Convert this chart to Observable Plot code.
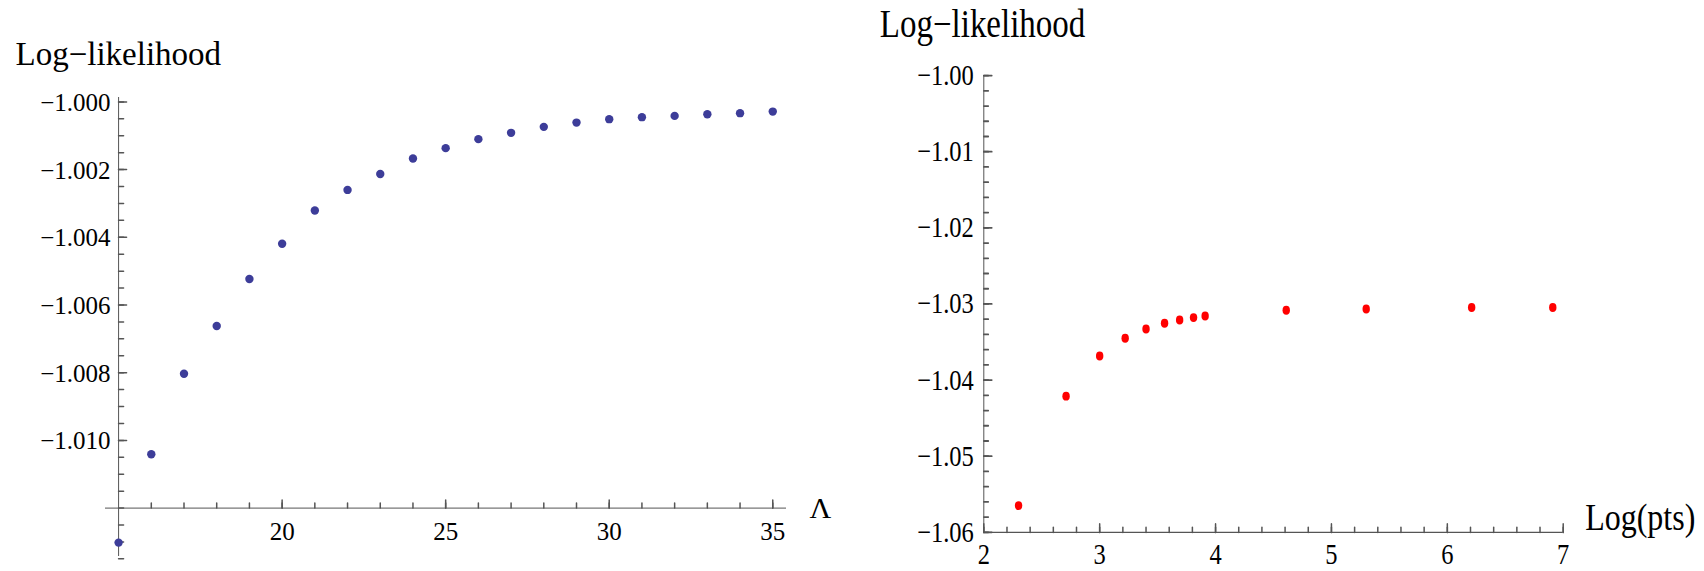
<!DOCTYPE html>
<html><head><meta charset="utf-8">
<script src="https://cdn.jsdelivr.net/npm/d3@7"></script>
<script src="https://cdn.jsdelivr.net/npm/@observablehq/plot@0.6"></script>
<style>
html,body{margin:0;padding:0;background:#fff;}
#wrap{position:relative;width:1704px;height:571px;overflow:hidden;background:#fff;}
#left{position:absolute;left:0;top:0;}
#right{position:absolute;left:852px;top:0;transform:scaleY(1.2);transform-origin:0 0;}
svg{overflow:visible;}
</style></head><body>
<div id="wrap"><div id="left"></div><div id="right"></div></div>
<script>
// ---------- Left panel: log-likelihood vs Lambda ----------
const lambdaValues = [15,16,17,18,19,20,21,22,23,24,25,26,27,28,29,30,31,32,33,34,35];
const llLambda = [-1.01302,-1.01041,-1.00803,-1.00662,-1.00523,-1.00419,-1.00321,-1.00260,-1.00213,-1.00167,
                  -1.001366,-1.00110,-1.000914,-1.000737,-1.000611,-1.000510,-1.000451,-1.000413,-1.000363,-1.000333,-1.000286];
const leftXLabels = [20,25,30,35];
const leftXMinor = [16,17,18,19,20,21,22,23,24,25,26,27,28,29,30,31,32,33,34,35];
const leftYLabels = [-1.000,-1.002,-1.004,-1.006,-1.008,-1.010];
const leftYMinor = d3.range(0, 28).map(i => -1 - i * 0.0005);
const leftOriginX = 15, leftOriginY = -1.012;
const leftXTitle = ["Λ"], leftYTitle = ["Log−likelihood"];

// ---------- Right panel: log-likelihood vs Log(pts) ----------
const logPts = [2.30,2.71,3.00,3.22,3.40,3.56,3.69,3.81,3.91,4.61,5.30,6.21,6.91];
const llPts = [-1.05649,-1.04211,-1.03684,-1.03451,-1.03329,-1.03254,-1.03211,-1.03179,-1.03158,-1.03083,-1.03066,-1.03047,-1.03047];
const rightXLabels = [2,3,4,5,6,7];
const rightXMinor = d3.range(0, 26).map(i => 2 + i * 0.2);
const rightYLabels = [-1.00,-1.01,-1.02,-1.03,-1.04,-1.05,-1.06];
const rightYMinor = d3.range(0, 31).map(i => -1 - i * 0.002);
const rightOriginX = 2, rightOriginY = -1.06;
const rightXTitle = ["Log(pts)"], rightYTitle = ["Log−likelihood"];

const serif = "'Liberation Serif','Times New Roman',serif";
const axisColor = "#555";
const tickShape = {draw(ctx, l) { ctx.moveTo(0, 0); ctx.lineTo(0, -l); }};

function ticksMarks(xMinor, xMajor, yMinor, yMajor, ox, oy, lenMaj, lenMin, xLenMaj, xLenMin) {
  return [
    Plot.vector(yMinor, {x: () => ox, y: d => d, length: lenMin, rotate: 90, anchor: "start", shape: tickShape, stroke: axisColor}),
    Plot.vector(yMajor, {x: () => ox, y: d => d, length: lenMaj, rotate: 90, anchor: "start", shape: tickShape, stroke: axisColor}),
    Plot.vector(xMinor, {x: d => d, y: () => oy, length: xLenMin, rotate: 0, anchor: "start", shape: tickShape, stroke: axisColor}),
    Plot.vector(xMajor, {x: d => d, y: () => oy, length: xLenMaj, rotate: 0, anchor: "start", shape: tickShape, stroke: axisColor})
  ];
}

const leftData = lambdaValues.map((x, i) => ({x, y: llLambda[i]}));
const fmt3 = d3.format(".3f");
const leftPlot = Plot.plot({
  width: 852, height: 571,
  marginLeft: 105, marginRight: 66, marginTop: 97, marginBottom: 15,
  x: {domain: [14.6, 35.42], axis: null},
  y: {domain: [-1.01343, -0.99987], axis: null},
  style: {background: "transparent"},
  marks: [
    Plot.ruleX([leftOriginX], {stroke: axisColor}),
    Plot.ruleY([leftOriginY], {stroke: axisColor}),
    ...ticksMarks(leftXMinor, leftXLabels, leftYMinor, leftYLabels, leftOriginX, leftOriginY, 8, 5, 8, 5),
    Plot.text(leftYLabels, {x: () => leftOriginX, y: d => d, text: d => fmt3(d), textAnchor: "end", dx: -8, dy: 1, fontSize: 25, fontFamily: serif, fill: "#000"}),
    Plot.text(leftXLabels, {x: d => d, y: () => leftOriginY, text: d => String(d), dy: 24, fontSize: 25, fontFamily: serif, fill: "#000"}),
    Plot.text(leftXTitle, {frameAnchor: "right", y: () => leftOriginY, text: d => d, textAnchor: "start", dx: 23, fontSize: 30, fontFamily: serif, fill: "#000"}),
    Plot.text(leftYTitle, {frameAnchor: "top-left", text: d => d, textAnchor: "start", lineAnchor: "bottom", dx: -90, dy: -33, fontSize: 33, fontFamily: serif, fill: "#000"}),
    Plot.dot(leftData, {x: "x", y: "y", r: 4.2, fill: "#3d3d99", stroke: "none"})
  ]
});
document.getElementById("left").appendChild(leftPlot);

const rightData = logPts.map((x, i) => ({x, y: llPts[i]}));
const fmt2 = d3.format(".2f");
const rightPlot = Plot.plot({
  width: 852, height: 476,
  marginLeft: 131.3, marginRight: 141.3, marginTop: 62.5, marginBottom: 32.9,
  x: {domain: [2, 7], axis: null},
  y: {domain: [-1.06, -1.0], axis: null},
  style: {background: "transparent"},
  marks: [
    Plot.ruleX([rightOriginX], {stroke: axisColor}),
    Plot.ruleY([rightOriginY], {stroke: axisColor}),
    ...ticksMarks(rightXMinor, rightXLabels, rightYMinor, rightYLabels, rightOriginX, rightOriginY, 8, 4.5, 7, 4),
    Plot.text(rightYLabels, {x: () => rightOriginX, y: d => d, text: d => fmt2(d), textAnchor: "end", dx: -10, fontSize: 24.5, fontFamily: serif, fill: "#000"}),
    Plot.text(rightXLabels, {x: d => d, y: () => rightOriginY, text: d => String(d), dy: 18.5, fontSize: 24.5, fontFamily: serif, fill: "#000"}),
    Plot.text(rightXTitle, {frameAnchor: "bottom-right", text: d => d, textAnchor: "start", dx: 22, dy: -2, fontSize: 32, fontFamily: serif, fill: "#000"}),
    Plot.text(rightYTitle, {frameAnchor: "top-left", text: d => d, textAnchor: "start", lineAnchor: "bottom", dx: -104, dy: -32.5, fontSize: 33, fontFamily: serif, fill: "#000"}),
    Plot.dot(rightData, {x: "x", y: "y", r: 3.7, fill: "#ff0000", stroke: "none"})
  ]
});
document.getElementById("right").appendChild(rightPlot);
</script>
</body></html>
